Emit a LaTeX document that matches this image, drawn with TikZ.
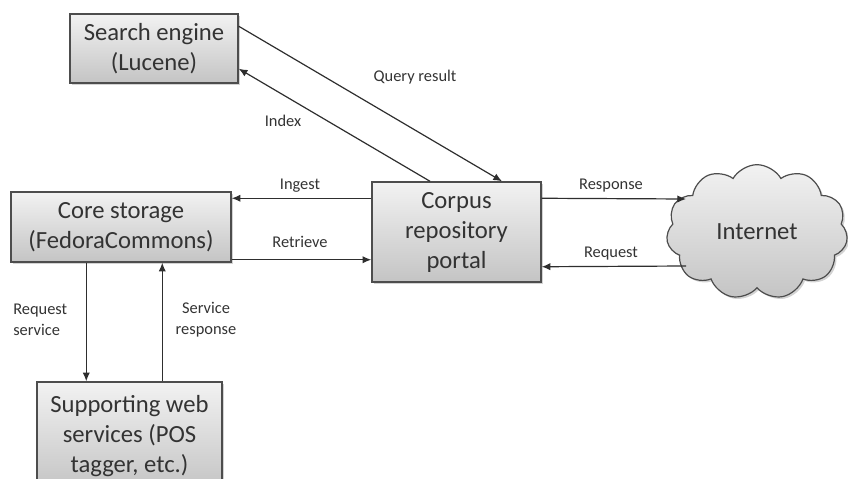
\documentclass[tikz,border=0pt]{standalone}
\usepackage{fontspec}
\setmainfont{Carlito}
\usetikzlibrary{arrows.meta,shapes.symbols,shadows}
\definecolor{edgec}{HTML}{2E2E2E}
\definecolor{topc}{HTML}{F2F2F2}
\definecolor{botc}{HTML}{C4C4C4}
\tikzset{
  x=0.75pt,y=-0.75pt,
  boxnode/.style={draw=edgec!85,line width=1.1pt,rectangle,top color=topc,bottom color=botc,
    drop shadow={shadow xshift=1.5pt,shadow yshift=-1.5pt,opacity=0.35},
    align=center,font=\fontsize{18.5}{22.5}\selectfont,text=black!80,inner sep=0pt},
  conn/.style={draw=edgec,line width=0.9pt,-{Latex[length=6.5pt,width=5.5pt]}},
  lbl/.style={font=\fontsize{12.3}{16}\selectfont,text=black!80,inner sep=0pt}
}
\begin{document}
\begin{tikzpicture}
\useasboundingbox (0,0) rectangle (848,478);
\clip (0,0) rectangle (848,478);
\node[boxnode,minimum width=126pt,minimum height=51.75pt] (search) at (154,48.5) {Search engine\\(Lucene)};
\node[boxnode,minimum width=165pt,minimum height=52.5pt] (core) at (121,227) {Core storage\\(FedoraCommons)};
\node[boxnode,minimum width=126.75pt,minimum height=75pt] (corpus) at (456.5,232) {Corpus\\repository\\portal};
\node[boxnode,minimum width=138.75pt,minimum height=81pt] (support) at (129.5,436) {Supporting web\\services (POS\\tagger, etc.)};
\node[cloud,cloud puffs=11,cloud puff arc=120,aspect=1.35,draw=edgec!85,line width=0.9pt,top color=topc,bottom color=botc,
  drop shadow={shadow xshift=1.5pt,shadow yshift=-1.5pt,opacity=0.35},
  minimum width=136pt,minimum height=101pt,inner sep=0pt,font=\fontsize{18.5}{21}\selectfont,text=black!80] (cloud) at (757,232) {Internet};

\draw[conn] ([yshift=-9.75pt]search.north east) -- ([xshift=34.1pt]corpus.north);
\draw[conn] ([xshift=-19.9pt]corpus.north) -- ([yshift=11.25pt]search.south east);
\draw[conn] ([yshift=-12.75pt]corpus.north west) -- ([yshift=-5.25pt]core.north east);
\draw[conn] ([yshift=2.25pt]core.south east) -- ([yshift=17.25pt]corpus.south west);
\draw[conn] ([yshift=-12.75pt]corpus.north east) -- ([xshift=-53.25pt,yshift=24.75pt]cloud.center);
\draw[conn] ([xshift=-53.25pt,yshift=-25.5pt]cloud.center) -- ([yshift=12pt]corpus.south east);
\draw[conn] ([xshift=57pt]core.south west) -- ([xshift=37.5pt]support.north west);
\draw[conn] ([xshift=94.5pt]support.north west) -- ([xshift=114pt]core.south west);

\node[lbl] (lq) at (415,77) {Query result};
\node[lbl] (li) at (283,121) {Index};
\node[lbl] (lin) at (300,186) {Ingest};
\node[lbl] (lr) at (300,242) {Retrieve};
\node[lbl] (lres) at (611,186) {Response};
\node[lbl] (lreq) at (611,254) {Request};
\node[lbl,align=left,anchor=west] (lrs) at (13,320) {Request\\service};
\node[lbl,align=center] (lsr) at (206,320) {Service\\response};
\end{tikzpicture}
\end{document}
